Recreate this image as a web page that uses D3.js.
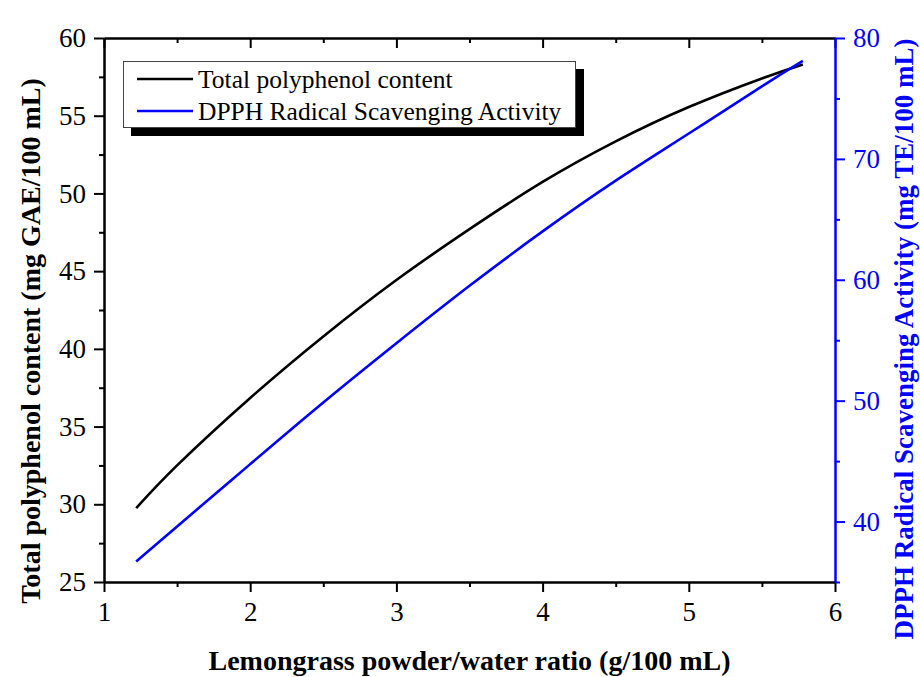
<!DOCTYPE html>
<html>
<head>
<meta charset="utf-8">
<script src="https://cdn.jsdelivr.net/npm/d3@7/dist/d3.min.js"></script>
<style>
  html, body { margin: 0; padding: 0; background: #fff; }
  svg { display: block; }
  text { font-family: "Liberation Serif", "Times New Roman", serif; }
</style>
</head>
<body>
<svg id="chart" width="920" height="677"></svg>
<script>
// ---- data ----
const ratio = [1.22, 1.5, 2, 2.5, 3, 3.5, 4, 4.5, 5, 5.5, 5.78];
const tpc   = [29.75, 32.5, 36.84, 40.8, 44.43, 47.7, 50.74, 53.35, 55.56, 57.4, 58.3];
const dpph  = [36.7, 39.6, 44.75, 49.85, 54.75, 59.5, 64.0, 68.2, 72.1, 76.0, 78.1];
const xMajor = [1, 2, 3, 4, 5, 6];
const xMinor = [1.5, 2.5, 3.5, 4.5, 5.5];
const yLeftMajor = [25, 30, 35, 40, 45, 50, 55, 60];
const yLeftMinor = [27.5, 32.5, 37.5, 42.5, 47.5, 52.5, 57.5];
const yRightMajor = [40, 50, 60, 70, 80];
const yRightMinor = [35, 45, 55, 65, 75];
const seriesNames = ["Total polyphenol content", "DPPH Radical Scavenging Activity"];
const xTitle = "Lemongrass powder/water ratio (g/100 mL)";
const yLeftTitle = "Total polyphenol content (mg GAE/100 mL)";
const yRightTitle = "DPPH Radical Scavenging Activity (mg TE/100 mL)";

// ---- layout ----
const L = 104, R = 835, T = 38, B = 582;
const BLUE = "#0000ff";
const svg = d3.select("#chart");

const x = d3.scaleLinear().domain([1, 6]).range([L, R]);
const yL = d3.scaleLinear().domain([25, 60]).range([B, T]);
const yR = d3.scaleLinear().domain([35, 80]).range([B, T]);

function styleAxis(g, color) {
  g.selectAll("path").attr("stroke", color).attr("stroke-width", 2);
  g.selectAll("line").attr("stroke", color).attr("stroke-width", 2);
  g.selectAll("text").attr("fill", color).attr("font-size", 27)
    .attr("font-family", '"Liberation Serif", "Times New Roman", serif');
}

// bottom
const gB = svg.append("g").attr("transform", `translate(0,${B})`)
  .call(d3.axisBottom(x).tickValues(xMajor).tickFormat(d3.format("d")).tickSize(10).tickPadding(10).tickSizeOuter(0));
styleAxis(gB, "#000");
const gBm = svg.append("g").attr("transform", `translate(0,${B})`)
  .call(d3.axisBottom(x).tickValues(xMinor).tickFormat("").tickSize(5).tickSizeOuter(0));
styleAxis(gBm, "#000");
// top (inward ticks)
const gT = svg.append("g").attr("transform", `translate(0,${T})`)
  .call(d3.axisBottom(x).tickValues(xMajor).tickFormat("").tickSize(10).tickSizeOuter(0));
styleAxis(gT, "#000");
const gTm = svg.append("g").attr("transform", `translate(0,${T})`)
  .call(d3.axisBottom(x).tickValues(xMinor).tickFormat("").tickSize(5).tickSizeOuter(0));
styleAxis(gTm, "#000");
// left
const gL = svg.append("g").attr("transform", `translate(${L},0)`)
  .call(d3.axisLeft(yL).tickValues(yLeftMajor).tickFormat(d3.format("d")).tickSize(10).tickPadding(8).tickSizeOuter(0));
styleAxis(gL, "#000");
const gLm = svg.append("g").attr("transform", `translate(${L},0)`)
  .call(d3.axisLeft(yL).tickValues(yLeftMinor).tickFormat("").tickSize(5).tickSizeOuter(0));
styleAxis(gLm, "#000");
// right
const gR = svg.append("g").attr("transform", `translate(${R},0)`)
  .call(d3.axisRight(yR).tickValues(yRightMajor).tickFormat(d3.format("d")).tickSize(10).tickPadding(8).tickSizeOuter(0));
styleAxis(gR, BLUE);
const gRm = svg.append("g").attr("transform", `translate(${R},0)`)
  .call(d3.axisRight(yR).tickValues(yRightMinor).tickFormat("").tickSize(5).tickSizeOuter(0));
styleAxis(gRm, BLUE);

// ---- lines ----
const lineL = d3.line().x((d, i) => x(ratio[i])).y(d => yL(d)).curve(d3.curveNatural);
const lineR = d3.line().x((d, i) => x(ratio[i])).y(d => yR(d)).curve(d3.curveNatural);
svg.append("path").datum(tpc).attr("d", lineL).attr("fill", "none")
  .attr("stroke", "#000").attr("stroke-width", 2.6);
svg.append("path").datum(dpph).attr("d", lineR).attr("fill", "none")
  .attr("stroke", BLUE).attr("stroke-width", 2.6);

// ---- legend ----
const lg = svg.append("g");
lg.append("rect").attr("x", 131).attr("y", 69).attr("width", 453).attr("height", 67).attr("fill", "#000");
lg.append("rect").attr("x", 123.5).attr("y", 61.5).attr("width", 452).attr("height", 66)
  .attr("fill", "#fff").attr("stroke", "#444").attr("stroke-width", 1);
const legColors = ["#000", BLUE];
const legY = [79, 111];
seriesNames.forEach((name, i) => {
  lg.append("line").attr("x1", 137).attr("x2", 193).attr("y1", legY[i]).attr("y2", legY[i])
    .attr("stroke", legColors[i]).attr("stroke-width", 2.6);
  lg.append("text").attr("x", 198).attr("y", legY[i]).attr("dy", "0.35em")
    .attr("font-size", 25.5).attr("fill", "#000").text(name);
});

// ---- titles ----
svg.append("text").attr("x", (L + R) / 2).attr("y", 670).attr("text-anchor", "middle")
  .attr("font-size", 28).attr("font-weight", "bold").attr("fill", "#000").text(xTitle);
svg.append("text").attr("transform", "translate(40,341) rotate(-90)").attr("text-anchor", "middle")
  .attr("font-size", 28).attr("font-weight", "bold").attr("fill", "#000").text(yLeftTitle);
svg.append("text").attr("transform", "translate(913,339) rotate(-90)").attr("text-anchor", "middle")
  .attr("font-size", 27).attr("font-weight", "bold").attr("fill", BLUE).text(yRightTitle);
</script>
</body>
</html>
